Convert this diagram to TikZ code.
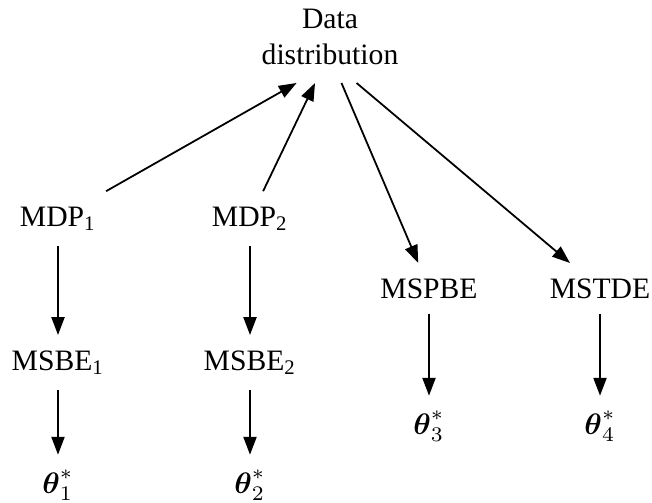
\documentclass[tikz,border=0pt]{standalone}
\usepackage{amsmath}
\usepackage[no-math]{fontspec}
\setmainfont{Liberation Serif}
\usetikzlibrary{arrows.meta}

\tikzset{
  lbl/.style={inner sep=5pt},
  flow/.style={-{Triangle[length=6pt,width=4.4pt]}, line width=0.6pt},
}

\begin{document}
\begin{tikzpicture}[x=0.3375pt,y=0.3375pt]
\useasboundingbox (0,0) rectangle (652,502);
\node[align=center, inner sep=6pt] (data) at (330,465) {Data\\distribution};

\node[lbl, anchor=base] (mdp1) at (58,276) {MDP\textsubscript{1}};
\node[lbl, anchor=base] (mdp2) at (250,276) {MDP\textsubscript{2}};
\node[lbl, anchor=base] (mspbe) at (429,204) {MSPBE};
\node[lbl, anchor=base] (mstde) at (600,204) {MSTDE};

\node[lbl, anchor=base] (msbe1) at (58,132) {MSBE\textsubscript{1}};
\node[lbl, anchor=base] (msbe2) at (250,132) {MSBE\textsubscript{2}};

\node[lbl, anchor=base] (th1) at (58,9) {$\boldsymbol{\theta}^*_1$};
\node[lbl, anchor=base] (th2) at (250,9) {$\boldsymbol{\theta}^*_2$};
\node[lbl, anchor=base] (th3) at (429,68) {$\boldsymbol{\theta}^*_3$};
\node[lbl, anchor=base] (th4) at (600,68) {$\boldsymbol{\theta}^*_4$};

\draw[flow] (mdp1) -- (data.234);
\draw[flow] (mdp2) -- (data.252);
\draw[flow] (data.284) -- (mspbe);
\draw[flow] (data.300) -- (mstde);

\draw[flow] (mdp1) -- (msbe1);
\draw[flow] (mdp2) -- (msbe2);
\draw[flow] (msbe1) -- (th1);
\draw[flow] (msbe2) -- (th2);
\draw[flow] (mspbe) -- (th3);
\draw[flow] (mstde) -- (th4);
\end{tikzpicture}
\end{document}
